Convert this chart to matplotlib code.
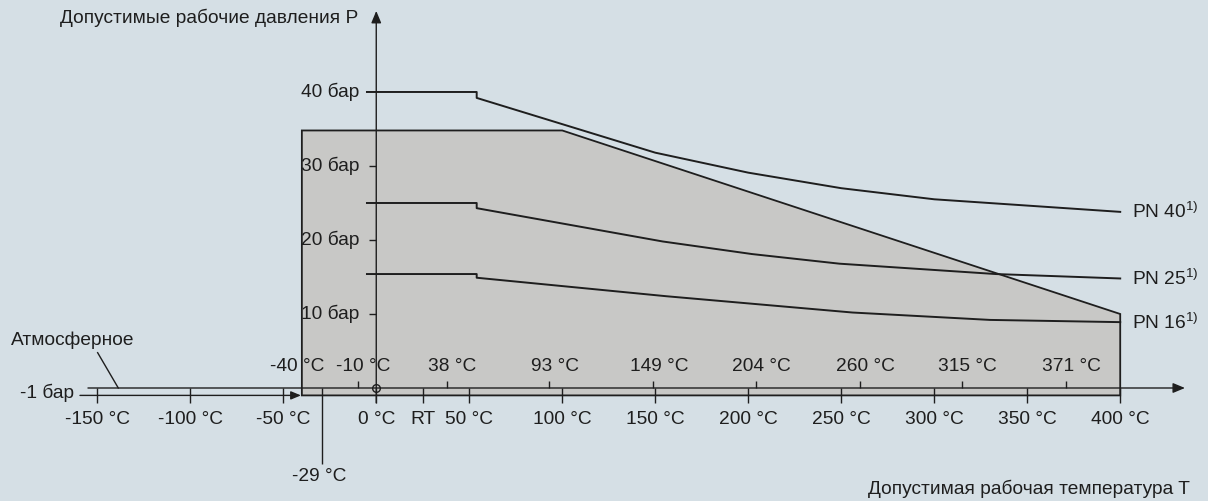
import matplotlib.pyplot as plt

plt.rcParams["font.family"] = ["Liberation Sans", "DejaVu Sans"]
plt.rcParams["font.size"] = 13.8

bg = "#d5dfe5"
shade = "#c8c8c6"
ink = "#1e1e1e"

# pressure curves: temperature (°C) / pressure (bar)
pn40_t = [-5, 54, 54, 150, 200, 250, 300, 400]
pn40_p = [40, 40, 39.2, 31.8, 29.1, 27.0, 25.5, 23.8]
pn25_t = [-5, 54, 54, 154, 202, 249, 333, 400]
pn25_p = [25, 25, 24.3, 19.8, 18.1, 16.8, 15.4, 14.8]
pn16_t = [-5, 54, 54, 156, 256, 330, 400]
pn16_p = [15.4, 15.4, 14.9, 12.4, 10.2, 9.2, 8.9]
pn_names = ["PN 40", "PN 25", "PN 16"]

# permitted area (grey)
area_t = [-40, -40, 100, 400, 400]
area_p = [-1, 34.8, 34.8, 10, -1]

# lower temperature scale
low_ticks = [-150, -100, -50, 0, 25, 50, 100, 150, 200, 250, 300, 350, 400]
low_labels = ["-150 °C", "-100 °C", "-50 °C", "0 °C", "RT", "50 °C", "100 °C",
              "150 °C", "200 °C", "250 °C", "300 °C", "350 °C", "400 °C"]
# upper temperature scale
up_ticks = [-10, 38, 93, 149, 204, 260, 315, 371]
up_labels = ["-10 °C", "38 °C", "93 °C", "149 °C", "204 °C", "260 °C", "315 °C", "371 °C"]
# pressure scale
p_ticks = [10, 20, 30, 40]
p_labels = ["10 бар", "20 бар", "30 бар", "40 бар"]

fig = plt.figure(figsize=(12.08, 5.01), dpi=100)
fig.patch.set_facecolor(bg)
ax = fig.add_axes([0, 0, 1, 1])
ax.set_xlim(-202.3, 447.2)
ax.set_ylim(-15.27, 52.43)
ax.axis("off")

# grey area
ax.fill(area_t, area_p, facecolor=shade, edgecolor=ink, lw=1.3, zorder=1)

# curves
for t, p, name in zip([pn40_t, pn25_t, pn16_t], [pn40_p, pn25_p, pn16_p], pn_names):
    ax.plot(t, p, color=ink, lw=1.4, zorder=3)
    ax.text(t[-1] + 6.5, p[-1], name + r"$^{\mathregular{1)}}$", ha="left",
            va="center", color=ink, zorder=4)

arrow = dict(arrowstyle="-|>,head_length=0.6,head_width=0.25", color=ink,
             lw=1.0, mutation_scale=12, shrinkA=0, shrinkB=0)

# temperature axis
ax.annotate("", xy=(434.8, 0), xytext=(-155, 0), arrowprops=arrow, zorder=2)
ax.vlines(low_ticks, -2.03, 0, color=ink, lw=1.0, zorder=2)
for t, lab in zip(low_ticks, low_labels):
    ax.text(t, -4.3, lab, ha="center", va="center", color=ink)
ax.vlines(up_ticks, 0, 0.95, color=ink, lw=1.0, zorder=2)
for t, lab in zip(up_ticks, up_labels):
    ax.text(t + 3, 2.84, lab, ha="center", va="center", color=ink)
ax.text(-42.6, 2.84, "-40 °C", ha="center", va="center", color=ink)

# -29 °C marker
ax.vlines(-29, -10.3, 0, color=ink, lw=1.0, zorder=2)
ax.text(-30.5, -12.0, "-29 °C", ha="center", va="center", color=ink)

# pressure axis
ax.annotate("", xy=(0, 50.95), xytext=(0, -2.0), arrowprops=arrow, zorder=2)
ax.hlines(p_ticks[:3], -4.1, 0, color=ink, lw=1.0, zorder=2)
for p, lab in zip(p_ticks, p_labels):
    ax.text(-9.1, p, lab, ha="right", va="center", color=ink, zorder=4)
ax.plot([0], [0], "o", ms=5.5, mfc="none", mec=ink, mew=1.0, zorder=4)

# -1 bar / atmospheric
ax.annotate("", xy=(-40.5, -1), xytext=(-159.3, -1),
            arrowprops=dict(arrow, mutation_scale=10), zorder=2)
ax.text(-162.5, -0.6, "-1 бар", ha="right", va="center", color=ink)
ax.plot([-149.8, -138.7], [4.77, 0], color=ink, lw=1.0)
ax.text(-196.4, 6.4, "Атмосферное", ha="left", va="center", color=ink)

# axis titles
ax.text(-9.7, 50.0, "Допустимые рабочие давления P", ha="right", va="center", color=ink)
ax.text(437.5, -13.65, "Допустимая рабочая температура T", ha="right", va="center",
        color=ink)

fig.savefig("out.png", dpi=100, facecolor=bg)
